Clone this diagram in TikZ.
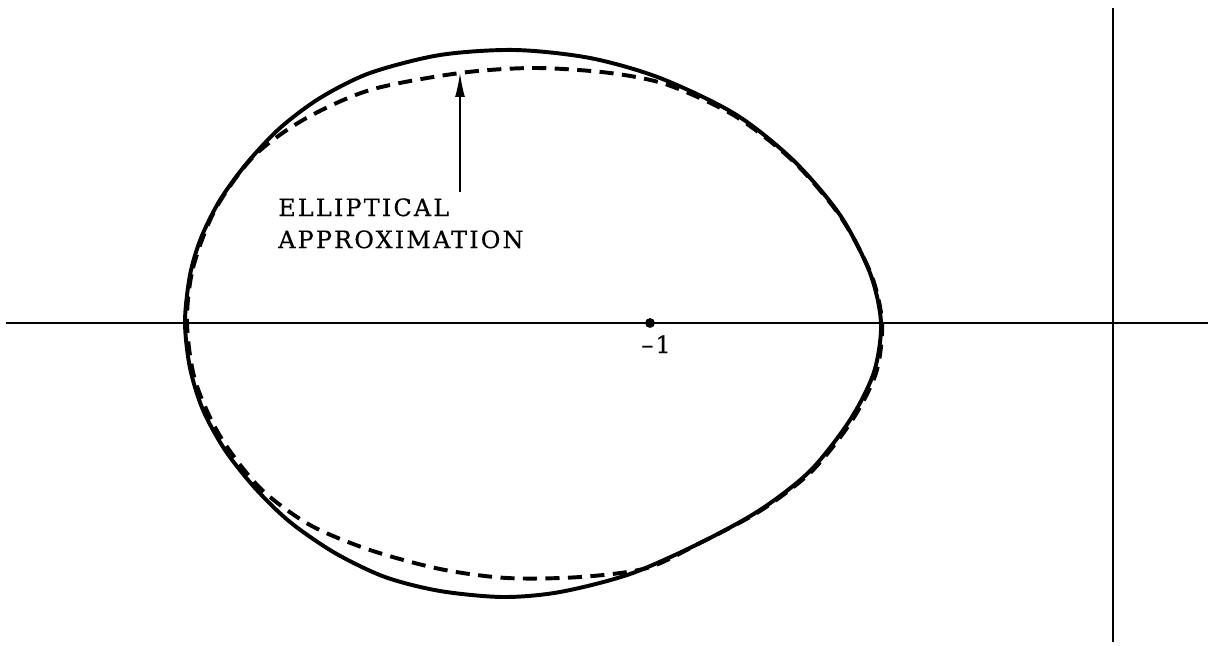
\documentclass[tikz,border=0pt]{standalone}
\usepackage{fontspec}
\setmainfont{DejaVu Serif}
\usepackage{tikz}
\usetikzlibrary{arrows.meta}
\tikzset{
  axisline/.style={line width=1.3pt},
  contour/.style={line width=2.8pt,line join=round},
  approx/.style={line width=2.8pt,dash pattern=on 10pt off 6pt},
  plotlabel/.style={font=\fontsize{17}{22.8}\selectfont\addfontfeature{LetterSpace=9,FakeBold=0.4},inner sep=0pt},
}

\begin{document}
\begin{tikzpicture}[x=0.025cm,y=-0.025cm]
  \useasboundingbox (0,0) rectangle (1208,645);

  % Axes
  \coordinate (west) at (6,323);
  \coordinate (east) at (1208,323);
  \coordinate (north) at (1113,8);
  \coordinate (south) at (1113,642);
  \draw[axisline] (west) -- (east);
  \draw[axisline] (north) -- (south);

  % Critical point
  \node[circle,fill,inner sep=0pt,minimum size=7pt] (crit) at (650,323) {};
  \node[plotlabel,anchor=north] (critlabel) at (656,335) {\textendash1};

  % Exact locus
  \draw[contour] plot[smooth cycle] coordinates {
    (185,322) (190,275) (201,238) (220,200) (247,163) (280,128) (320,98)
    (370,73) (440,55) (515,50) (590,58) (660,78) (735,114) (793,160)
    (840,215) (870,273) (881,323) (874,372) (850,420) (810,471) (760,510)
    (700,543) (630,574) (560,592) (503,597) (440,591) (385,577) (335,553)
    (290,522) (255,488) (225,450) (203,410) (190,368)};

  % Elliptical approximation
  \draw[approx] plot[smooth cycle] coordinates {
    (187,322) (193,268) (215,210) (253,157) (303,120) (370,90) (460,73)
    (535,68) (610,73) (668,85) (735,116) (793,161) (840,216) (871,274)
    (882,323) (876,373) (851,422) (811,472) (760,511) (700,543) (647,568)
    (580,577) (507,578) (440,569) (370,550) (310,525) (260,488) (220,436)
    (195,380)};

  % Label
  \node[plotlabel,anchor=north west,align=left] (ellabel) at (278,198)
    {ELLIPTICAL\\APPROXIMATION};
  \coordinate (tip) at (460,73);
  \draw[line width=1pt,-{Latex[length=17pt,width=7pt]}]
    ([yshift=4pt]ellabel.north -| tip) -- (tip);
\end{tikzpicture}
\end{document}
